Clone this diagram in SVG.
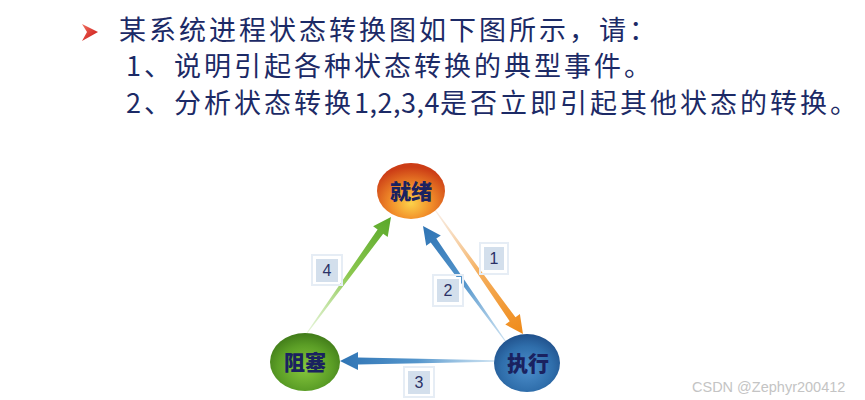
<svg xmlns="http://www.w3.org/2000/svg" width="865" height="400" viewBox="0 0 865 400">
<defs>
<style>
.t{font-family:"Noto Sans CJK SC","Noto Sans",sans-serif;font-size:27px;font-weight:normal;fill:#1c2a66;letter-spacing:3px}
.d{letter-spacing:0.5px}
.n{font-family:"Noto Sans CJK SC","Noto Sans",sans-serif;font-size:21px;font-weight:900;fill:#1a2260;text-anchor:middle}
.lb{fill:#d3dfec;stroke:#ffffff;stroke-width:2}
.lbo{fill:none;stroke:#e6edf5;stroke-width:2}
.lt{font-family:"Liberation Sans",Arial,sans-serif;font-size:16px;fill:#2a3166;text-anchor:middle}
.wm{font-family:"Liberation Sans",Arial,sans-serif;font-size:14.5px;fill:#c4c4c4}
</style>
<linearGradient id="bul" x1="0" y1="0" x2="1" y2="1">
<stop offset="0" stop-color="#f07060"/><stop offset="1" stop-color="#c81010"/>
</linearGradient>
<radialGradient id="gOr" cx="0.5" cy="0.72" r="0.65">
<stop offset="0" stop-color="#fcd24a"/><stop offset="0.45" stop-color="#f2902a"/><stop offset="1" stop-color="#cc3d16"/>
</radialGradient>
<radialGradient id="gBl" cx="0.5" cy="0.6" r="0.65">
<stop offset="0" stop-color="#4d8fcc"/><stop offset="0.6" stop-color="#2f6eab"/><stop offset="1" stop-color="#1d4a84"/>
</radialGradient>
<radialGradient id="gGr" cx="0.5" cy="0.6" r="0.65">
<stop offset="0" stop-color="#88c83e"/><stop offset="0.6" stop-color="#5b9e26"/><stop offset="1" stop-color="#3a7216"/>
</radialGradient>
<linearGradient id="a1" gradientUnits="userSpaceOnUse" x1="433" y1="207" x2="523" y2="334">
<stop offset="0" stop-color="#f4e6dc" stop-opacity="0.6"/><stop offset="0.5" stop-color="#f5b060"/><stop offset="1" stop-color="#ef8a18"/>
</linearGradient>
<linearGradient id="a2" gradientUnits="userSpaceOnUse" x1="506" y1="342" x2="423" y2="226">
<stop offset="0" stop-color="#a8cde8" stop-opacity="0.6"/><stop offset="0.5" stop-color="#5596cc"/><stop offset="1" stop-color="#2f74b4"/>
</linearGradient>
<linearGradient id="a3" gradientUnits="userSpaceOnUse" x1="495" y1="361" x2="340" y2="361">
<stop offset="0" stop-color="#a8cde8" stop-opacity="0.6"/><stop offset="0.5" stop-color="#5596cc"/><stop offset="1" stop-color="#2f74b4"/>
</linearGradient>
<linearGradient id="a4" gradientUnits="userSpaceOnUse" x1="307" y1="333" x2="391" y2="217">
<stop offset="0" stop-color="#d6eec0" stop-opacity="0.6"/><stop offset="0.5" stop-color="#8cc850"/><stop offset="1" stop-color="#5aa82a"/>
</linearGradient>
</defs>
<rect width="865" height="400" fill="#ffffff"/>
<g id="title">
<path d="M82,24 L98,32 L82,41 L87,32 Z" fill="url(#bul)"/>
<text class="t" x="119" y="40">某系统进程状态转换图如下图所示，请：</text>
<text class="t" x="126" y="76">1、说明引起各种状态转换的典型事件。</text>
<text class="t" x="126" y="113">2、分析状态转换<tspan class="d">1,2,3,4</tspan>是否立即引起其他状态的转换。</text>
</g>
<g id="connectors">
<polygon points="433.4,206.7 515.5,317.3 519.9,314.1 523,334 505.3,324.5 509.7,321.3 432.6,207.3" fill="url(#a1)"/>
<polygon points="506.4,341.7 436.3,238.6 440.8,235.4 423,226 426.2,245.8 430.7,242.6 505.6,342.3" fill="url(#a2)"/>
<polygon points="495,360.3 358,357.5 358,352 340,361 358,370 358,364.5 495,361.7" fill="url(#a3)"/>
<polygon points="307.4,333.3 383.2,233.7 387.7,236.9 391,217 373.1,226.3 377.6,229.5 306.6,332.7" fill="url(#a4)"/>
</g>
<g id="label1"><rect class="lbo" x="480" y="243" width="28" height="31"/><rect class="lb" x="483" y="246" width="22" height="25"/><text class="lt" x="494" y="264">1</text></g>
<g id="label2"><rect class="lbo" x="433" y="275" width="30" height="31"/><rect class="lb" x="436" y="278" width="24" height="25"/><text class="lt" x="448" y="296">2</text></g>
<g id="label3"><rect class="lbo" x="404" y="367" width="30" height="30"/><rect class="lb" x="407" y="370" width="24" height="25"/><text class="lt" x="419" y="388">3</text></g>
<g id="label4"><rect class="lbo" x="312" y="255" width="30" height="30"/><rect class="lb" x="315" y="258" width="24" height="25"/><text class="lt" x="327" y="276">4</text></g>
<g id="node-ready"><ellipse cx="411" cy="191" rx="34" ry="28" fill="url(#gOr)"/><text class="n" x="411" y="199">就绪</text></g>
<g id="node-run"><ellipse cx="527" cy="363" rx="33" ry="29" fill="url(#gBl)"/><text class="n" x="528" y="371">执行</text></g>
<g id="node-block"><ellipse cx="305" cy="362" rx="35" ry="29" fill="url(#gGr)"/><text class="n" x="305" y="370">阻塞</text></g>
<text class="wm" x="692" y="392">CSDN @Zephyr200412</text>
</svg>
